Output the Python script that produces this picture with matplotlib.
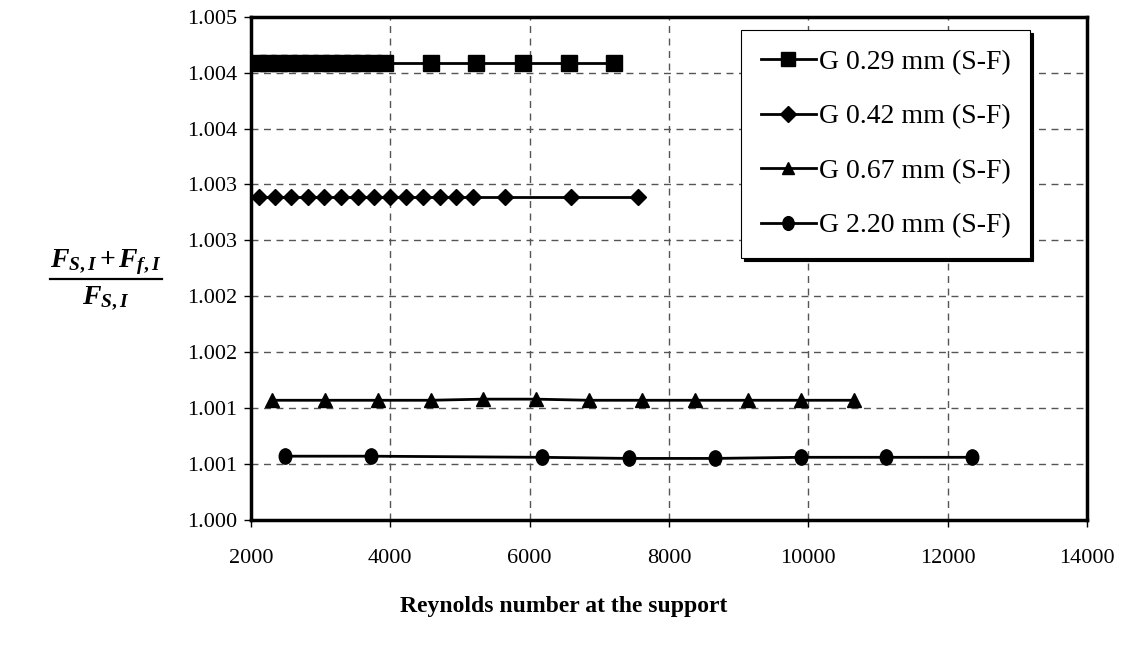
from decimal import Decimal, ROUND_HALF_UP

import matplotlib
matplotlib.use("Agg")
import matplotlib.pyplot as plt
import matplotlib.ticker as mticker
from matplotlib.lines import Line2D
from matplotlib.path import Path
from matplotlib.transforms import Affine2D

plt.rcParams["font.family"] = ["Liberation Serif", "DejaVu Serif"]
plt.rcParams["mathtext.fontset"] = "custom"
plt.rcParams["mathtext.it"] = "Liberation Serif:italic:bold"
plt.rcParams["mathtext.rm"] = "Liberation Serif:bold"
plt.rcParams["mathtext.bf"] = "Liberation Serif:bold"

# Reynolds number at the support vs. force ratio, one series per gap size
re_029 = [2100, 2250, 2400, 2550, 2700, 2850, 3000, 3150, 3300, 3450, 3600,
          3750, 3920, 4580, 5230, 5900, 6560, 7210]
ratio_029 = [1.00409] * len(re_029)

re_042 = [2110, 2350, 2580, 2820, 3050, 3290, 3530, 3760, 4000, 4230, 4470,
          4710, 4940, 5180, 5650, 6600, 7560]
ratio_042 = [1.00289] * len(re_042)

re_067 = [2300, 3060, 3820, 4580, 5330, 6090, 6850, 7610, 8370, 9130, 9890, 10650]
ratio_067 = [1.00107, 1.00107, 1.00107, 1.00107, 1.00108, 1.00108, 1.00107,
             1.00107, 1.00107, 1.00107, 1.00107, 1.00107]

re_220 = [2490, 3720, 6170, 7420, 8660, 9890, 11120, 12350]
ratio_220 = [1.00057, 1.00057, 1.00056, 1.00055, 1.00055, 1.00056, 1.00056, 1.00056]

# slightly tall circle marker
tall_circle = Path.unit_circle().transformed(Affine2D().scale(0.82, 1.0))

series = [
    ("G 0.29 mm (S-F)", re_029, ratio_029, "s", 11),
    ("G 0.42 mm (S-F)", re_042, ratio_042, "D", 8.5),
    ("G 0.67 mm (S-F)", re_067, ratio_067, "^", 10),
    ("G 2.20 mm (S-F)", re_220, ratio_220, tall_circle, 11),
]


def excel_round(v, pos):
    # round half up to 3 decimals, like the spreadsheet axis labels
    d = Decimal(str(round(v, 5))).quantize(Decimal("0.001"), rounding=ROUND_HALF_UP)
    return f"{d}"


fig = plt.figure(figsize=(11.28, 6.54), dpi=100)
ax = fig.add_axes([0.2225, 0.205, 0.7412, 0.7695])

for label, x, y, marker, ms in series:
    ax.plot(x, y, "-", marker=marker, color="black", linewidth=2,
            markersize=ms, markerfacecolor="black", markeredgecolor="black",
            label=label, zorder=3)

ax.set_xlim(2000, 14000)
ax.set_ylim(1.0, 1.0045)
ax.xaxis.set_major_locator(mticker.MultipleLocator(2000))
ax.yaxis.set_major_locator(mticker.MultipleLocator(0.0005))
ax.yaxis.set_major_formatter(mticker.FuncFormatter(excel_round))
ax.grid(True, color="#555555", linestyle=(0, (5, 4)), linewidth=1)

for s in ax.spines.values():
    s.set_linewidth(2.5)
ax.tick_params(axis="both", direction="out", length=5, width=1, labelsize=16)
ax.tick_params(axis="x", pad=16)
ax.tick_params(axis="y", pad=5)

leg = ax.legend(loc="upper right", bbox_to_anchor=(0.932, 0.974),
                fontsize=20, frameon=True, fancybox=False,
                shadow={"color": "black", "alpha": 1},
                edgecolor="black", framealpha=1, labelspacing=1.05,
                handlelength=2.0, handletextpad=0.1, borderpad=0.7,
                borderaxespad=0, markerscale=0.9)
leg.get_frame().set_linewidth(0.8)

fig.text(0.5, 0.073, "Reynolds number at the support", ha="center",
         va="center", fontsize=17, fontweight="bold")

# ratio label: underlined numerator over the denominator
bar_y = 0.574
num = fig.text(0.094, bar_y + 0.002, r"$F_{S,I}\,\mathrm{+}\,F_{f,I}$",
               ha="center", va="bottom", fontsize=20)
fig.text(0.094, bar_y - 0.008, r"$F_{S,I}$", ha="center", va="top",
         fontsize=20)
fig.canvas.draw()
bb = num.get_window_extent().transformed(fig.transFigure.inverted())
fig.add_artist(Line2D([bb.x0, bb.x1], [bar_y, bar_y], color="black",
                      linewidth=1.6, transform=fig.transFigure))

fig.savefig("out.png", dpi=100)
